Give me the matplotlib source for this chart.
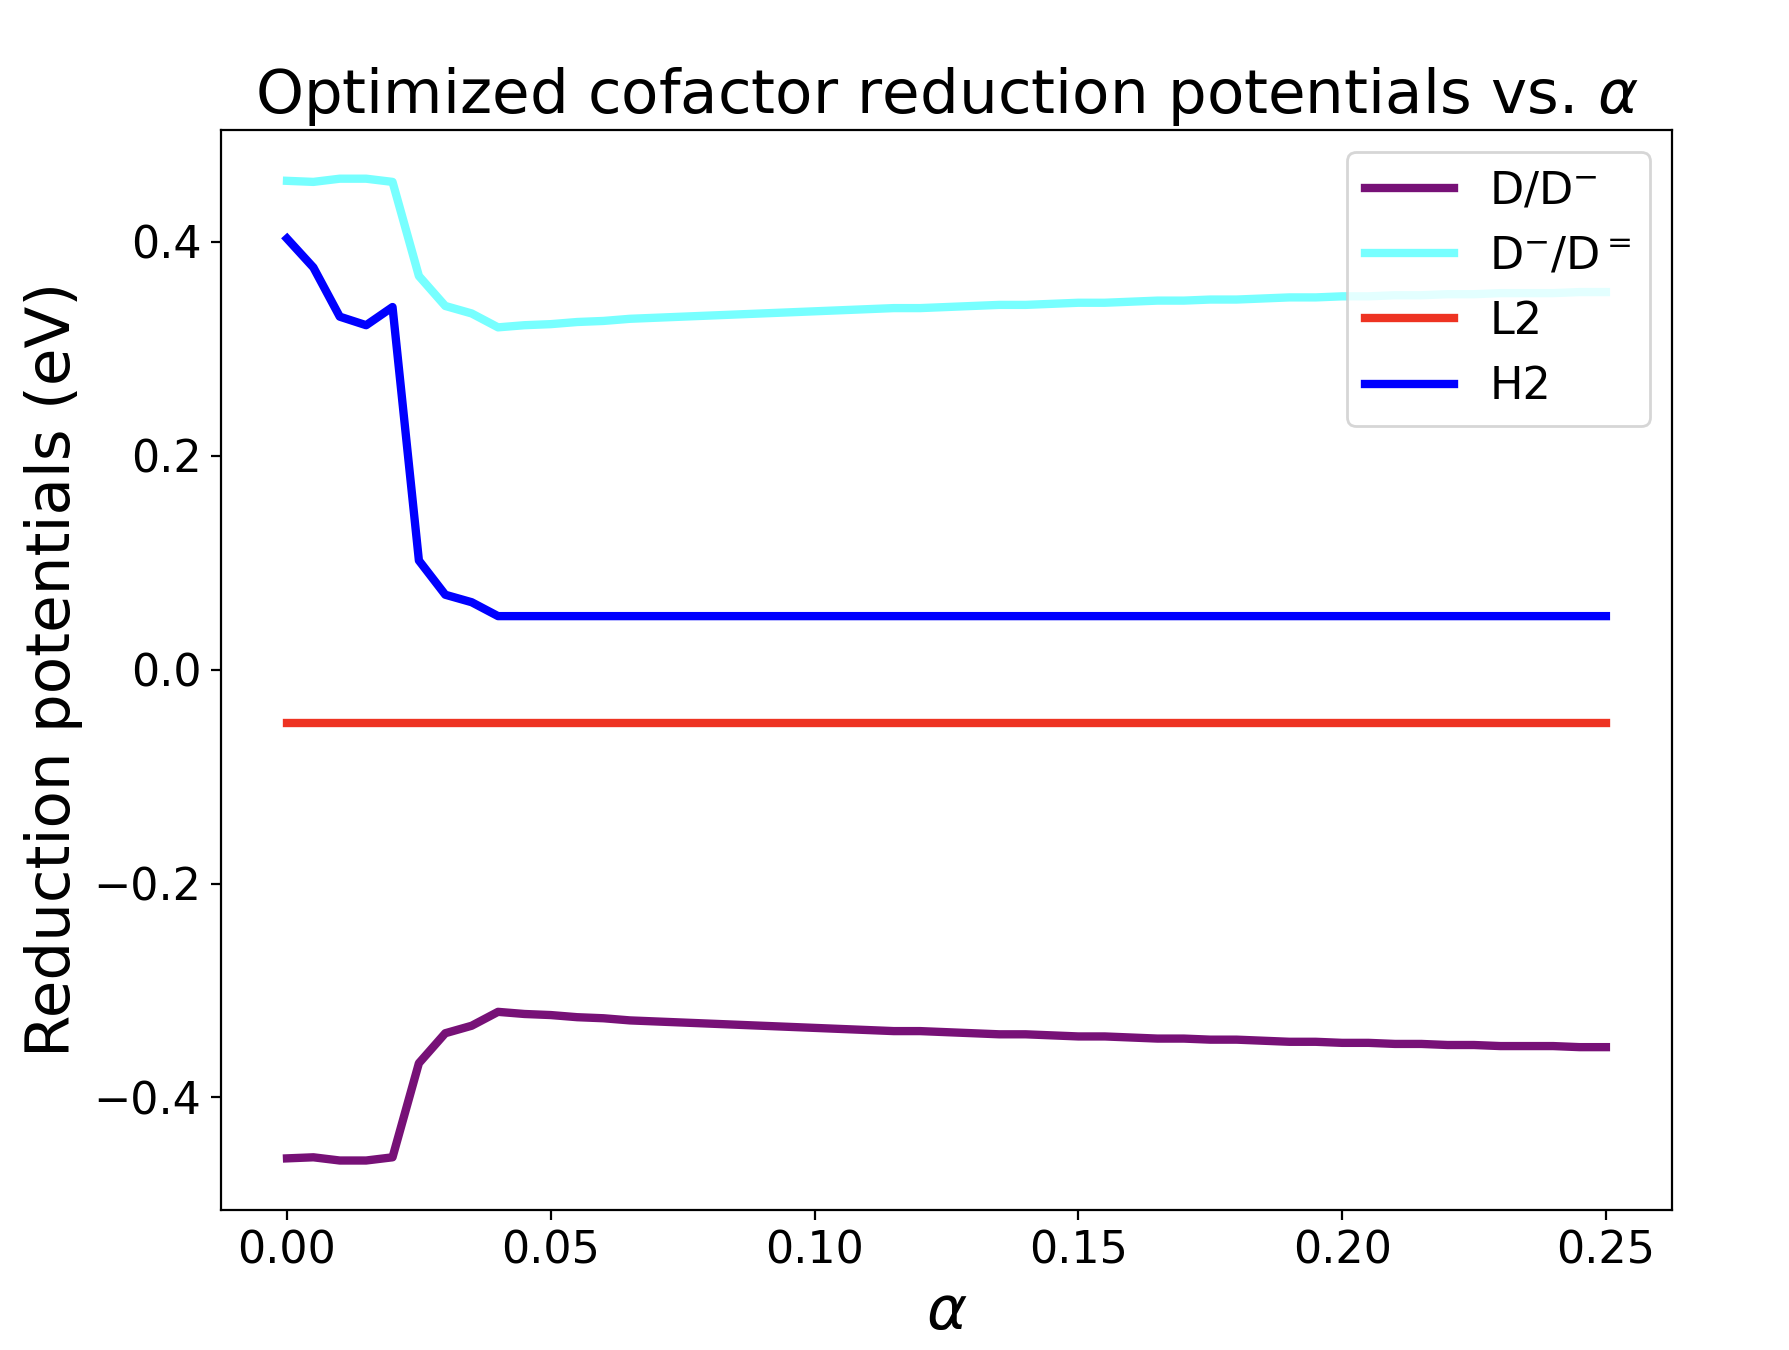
"""Optimized cofactor reduction potentials vs. alpha."""
import numpy as np
import matplotlib
matplotlib.use("Agg")
import matplotlib.pyplot as plt

# alpha grid, step 0.005 from 0 to 0.25
ALPHA = [round(0.005 * i, 3) for i in range(51)]

# D-/D= potential (eV)
D_MINUS_D_EQ = [
    0.457, 0.456, 0.459, 0.459, 0.456, 0.368, 0.340, 0.333, 0.320,
    0.322, 0.323, 0.325, 0.326, 0.328, 0.329, 0.330, 0.331, 0.332, 0.333,
    0.334, 0.335, 0.336, 0.337, 0.338, 0.338, 0.339, 0.340, 0.341, 0.341,
    0.342, 0.343, 0.343, 0.344, 0.345, 0.345, 0.346, 0.346, 0.347, 0.348,
    0.348, 0.349, 0.349, 0.350, 0.350, 0.351, 0.351, 0.352, 0.352, 0.352,
    0.353, 0.353,
]
# D/D- is the mirror image of D-/D=
D_D_MINUS = [-v for v in D_MINUS_D_EQ]

H2 = [0.403, 0.376, 0.330, 0.322, 0.339, 0.102, 0.070, 0.063] + [0.050] * 43
L2 = [-0.050] * 51

COLORS = {"dd": "#771177", "dde": "#77FFFF", "l2": "#EE3322", "h2": "#0000FF"}

fig = plt.figure(figsize=(8.95, 6.75), dpi=200)
ax = fig.add_axes([0.1235, 0.104, 0.8105, 0.800])

ax.plot(ALPHA, D_D_MINUS, color=COLORS["dd"], lw=3, label=r"D/D$^{-}$")
ax.plot(ALPHA, D_MINUS_D_EQ, color=COLORS["dde"], lw=3, label=r"D$^{-}$/D$^{=}$")
ax.plot(ALPHA, L2, color=COLORS["l2"], lw=3, label="L2")
ax.plot(ALPHA, H2, color=COLORS["h2"], lw=3, label="H2")

ax.set_xticks([0.0, 0.05, 0.10, 0.15, 0.20, 0.25])
ax.set_xticklabels(["0.00", "0.05", "0.10", "0.15", "0.20", "0.25"])
ax.set_yticks([-0.4, -0.2, 0.0, 0.2, 0.4])
ax.tick_params(labelsize=16)

ax.set_title(r"Optimized cofactor reduction potentials vs. $\alpha$", fontsize=22)
ax.set_xlabel(r"$\alpha$", fontsize=22)
ax.set_ylabel("Reduction potentials (eV)", fontsize=22)
ax.legend(loc="upper right", fontsize=16)

fig.savefig("out.png", dpi=200)
